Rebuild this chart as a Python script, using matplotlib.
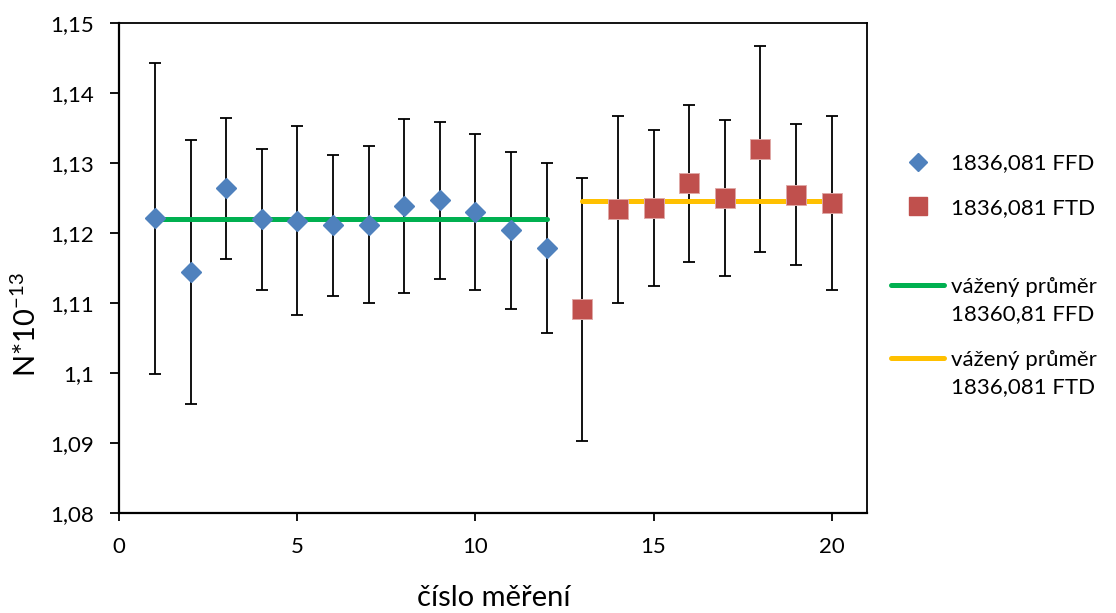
import matplotlib.pyplot as plt
from matplotlib.lines import Line2D
from matplotlib.ticker import FuncFormatter

plt.rcParams['font.family'] = ['Lato', 'DejaVu Sans']
plt.rcParams['mathtext.default'] = 'regular'

# data
ffd_x = [1, 2, 3, 4, 5, 6, 7, 8, 9, 10, 11, 12]
ffd_y = [1.1221, 1.1144, 1.1264, 1.1220, 1.1218, 1.1211, 1.1212, 1.1239, 1.1247, 1.1230, 1.1204, 1.1179]
ffd_err = [0.0223, 0.0189, 0.0101, 0.0101, 0.0135, 0.0101, 0.0112, 0.0124, 0.0112, 0.0112, 0.0112, 0.0122]

ftd_x = [13, 14, 15, 16, 17, 18, 19, 20]
ftd_y = [1.1091, 1.1234, 1.1236, 1.1271, 1.1250, 1.1320, 1.1255, 1.1243]
ftd_err = [0.0188, 0.0134, 0.0112, 0.0112, 0.0112, 0.0147, 0.0101, 0.0124]

ffd_mean = 1.1220
ftd_mean = 1.1246

label_ffd = '1836,081 FFD'
label_ftd = '1836,081 FTD'
label_mean = 'vážený průměr'
label_mean_ffd = '18360,81 FFD'
label_mean_ftd = '1836,081 FTD'

blue = '#4F81BD'
red = '#C0504D'
green = '#00B050'
yellow = '#FFC000'

fig = plt.figure(figsize=(11.16, 6.13), dpi=100)
ax = fig.add_axes([0.1069, 0.1636, 0.6702, 0.7982])

# error bars
ax.errorbar(ffd_x, ffd_y, yerr=ffd_err, fmt='none', ecolor='black',
            elinewidth=1.3, capsize=4.5, capthick=1.3, zorder=2)
ax.errorbar(ftd_x, ftd_y, yerr=ftd_err, fmt='none', ecolor='black',
            elinewidth=1.3, capsize=4.5, capthick=1.3, zorder=2)

# weighted means
ax.plot([ffd_x[0], ffd_x[-1]], [ffd_mean, ffd_mean], color=green, lw=3.6,
        solid_capstyle='round', zorder=3)
ax.plot([ftd_x[0], ftd_x[-1]], [ftd_mean, ftd_mean], color=yellow, lw=3.6,
        solid_capstyle='round', zorder=3)

# points
ax.plot(ffd_x, ffd_y, 'D', color=blue, ms=10.2, mec=blue, zorder=4)
ax.plot(ftd_x, ftd_y, 's', color=red, ms=14, mec='#E0A9A7', mew=0.7, zorder=4)

ax.set_xlim(0, 21)
ax.set_ylim(1.08, 1.15)
ax.set_xticks([0, 5, 10, 15, 20])
ax.set_yticks([1.08, 1.09, 1.10, 1.11, 1.12, 1.13, 1.14, 1.15])
ax.yaxis.set_major_formatter(FuncFormatter(
    lambda v, p: ('%.2f' % v).rstrip('0').rstrip('.').replace('.', ',')))

ax.tick_params(axis='both', labelsize=16, colors='black', width=1.3)
ax.tick_params(axis='y', length=6.5, pad=12)
ax.tick_params(axis='x', length=5.5, pad=12)
for s in ax.spines.values():
    s.set_linewidth(1.3)
    s.set_color('black')
ax.spines['left'].set_linewidth(1.6)
ax.spines['bottom'].set_linewidth(1.6)

ax.set_xlabel('číslo měření', fontsize=21, va='top')
ax.xaxis.set_label_coords(0.5, -0.148)
ax.set_ylabel(r'N*10$^{-13}$', fontsize=21)
ax.yaxis.set_label_coords(-0.105, 0.385)

# legend, split in three blocks to match spacing
fs = 16
common = dict(frameon=False, loc='center left', fontsize=fs, handlelength=2.4,
              handletextpad=0.3, borderpad=0, borderaxespad=0)
h_ffd = Line2D([], [], marker='D', ls='none', color=blue, ms=8.7)
h_ftd = Line2D([], [], marker='s', ls='none', color=red, ms=13)
leg1 = fig.legend([h_ffd, h_ftd], [label_ffd, label_ftd], labelspacing=1.1,
                  bbox_to_anchor=(891 / 1116, 1 - 185.5 / 613), **common)
blank = Line2D([], [], ls='none')
h_g = Line2D([], [], color=green, lw=3.6, solid_capstyle='round')
h_y = Line2D([], [], color=yellow, lw=3.6, solid_capstyle='round')
leg2 = fig.legend([h_g, blank], [label_mean, label_mean_ffd], labelspacing=0.3,
                  bbox_to_anchor=(891 / 1116, 1 - 300.5 / 613), **common)
leg3 = fig.legend([h_y, blank], [label_mean, label_mean_ftd], labelspacing=0.35,
                  bbox_to_anchor=(891 / 1116, 1 - 373.5 / 613), **common)

fig.savefig('out.png', dpi=100)
